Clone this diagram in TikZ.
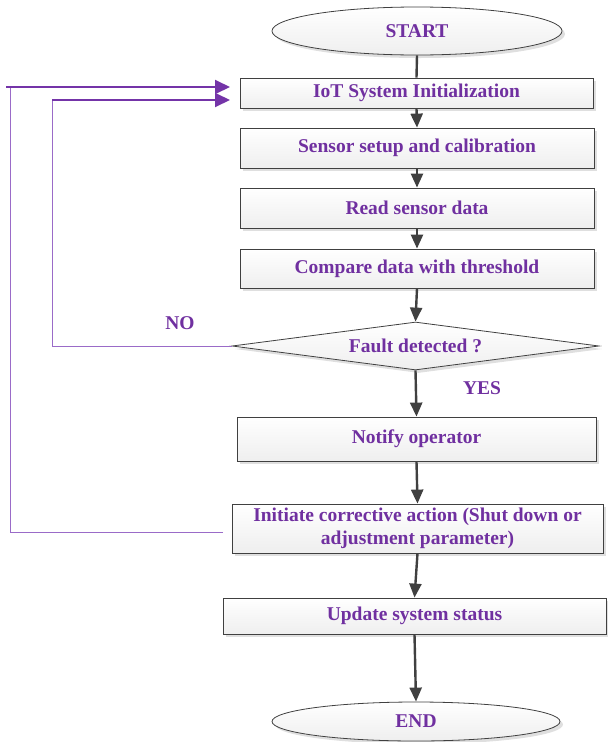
\documentclass[tikz,border=0pt]{standalone}
\usepackage{fontspec}
\setmainfont{Liberation Serif}
\usetikzlibrary{shapes.geometric,shadows,arrows.meta}
\definecolor{txtpurple}{HTML}{7030A0}
\definecolor{looppurple}{HTML}{7434A8}
\definecolor{loopthin}{HTML}{9A6BC8}
\definecolor{edgegray}{HTML}{404040}
\tikzset{
  every node/.style={font=\fontsize{19.5}{23}\selectfont\bfseries, text=txtpurple},
  base/.style={draw=edgegray, line width=0.8pt, top color=white, bottom color=gray!13,
    drop shadow={shadow xshift=3pt, shadow yshift=-3pt, fill=gray!35, opacity=0.7},
    inner sep=0pt, align=center},
  procbox/.style={base, rectangle},
  termbox/.style={base, ellipse},
  decbox/.style={base, diamond, shape aspect=7.6},
  flow/.style={draw=edgegray, line width=2.4pt, -{Triangle[length=14pt,width=12pt]}},
  flowplain/.style={draw=edgegray, line width=2.4pt},
  loopthinline/.style={draw=loopthin, line width=1pt},
  loophead/.style={draw=looppurple, line width=2pt, -{Triangle[length=15pt,width=14pt]}},
  lbl/.style={inner sep=0pt}
}
\begin{document}
\begin{tikzpicture}[x=1pt, y=-1pt]
\useasboundingbox (0,0) rectangle (608,742);

% terminals and process steps
\node[termbox, minimum width=290pt, minimum height=48pt] (start) at (417,31) {START};
\node[procbox, minimum width=353pt, minimum height=30pt] (init) at (416.5,93) {IoT System Initialization};
\node[procbox, minimum width=354pt, minimum height=40pt] (setup) at (417,148) {Sensor setup and calibration};
\node[procbox, minimum width=354pt, minimum height=40pt] (read) at (417,208) {Read sensor data};
\node[procbox, minimum width=354pt, minimum height=39pt] (compare) at (417,268.5) {Compare data with threshold};
\node[decbox, minimum width=367pt, minimum height=48pt] (fault) at (415.5,346) {Fault detected ?};
\node[procbox, minimum width=359pt, minimum height=44pt] (notify) at (416.5,439) {Notify operator};
\node[procbox, minimum width=371pt, minimum height=49pt] (act) at (417.5,528.5) {Initiate corrective action (Shut down or\\adjustment parameter)};
\node[procbox, minimum width=383pt, minimum height=36pt] (update) at (414.5,616) {Update system status};
\node[termbox, minimum width=288pt, minimum height=39pt] (stop) at (416,721.5) {END};

% branch labels
\node[lbl] (nolbl) at (180,323) {NO};
\node[lbl] (yeslbl) at (482,388) {YES};

% main flow
\draw[flowplain] (start.south) -- (init.north);
\draw[flow] (init.south) -- (setup.north);
\draw[flow] (setup.south) -- (read.north);
\draw[flow] (read.south) -- (compare.north);
\draw[flow] (compare.south) -- (fault.north);
\draw[flow] (fault.south) -- (notify.north);
\draw[flow] (notify.south) -- (act.north);
\draw[flow] (act.south) -- (update.north);
\draw[flow] (update.south) -- (stop.north);

% feedback loops back to initialization
\coordinate (noturn) at (52,346);
\coordinate (noup) at (52,100);
\coordinate (inlow) at (230,100);
\coordinate (actend) at (223,532);
\coordinate (actturn) at (10,532);
\coordinate (actup) at (10,87);
\coordinate (topstart) at (6,87);
\coordinate (inhigh) at (230,87);

\draw[loopthinline] (fault.west) -- (noturn) -- (noup);
\draw[loophead] (noup) -- (inlow);
\draw[loopthinline] (actend) -- (actturn) -- (actup);
\draw[loophead] (topstart) -- (inhigh);
\end{tikzpicture}
\end{document}
